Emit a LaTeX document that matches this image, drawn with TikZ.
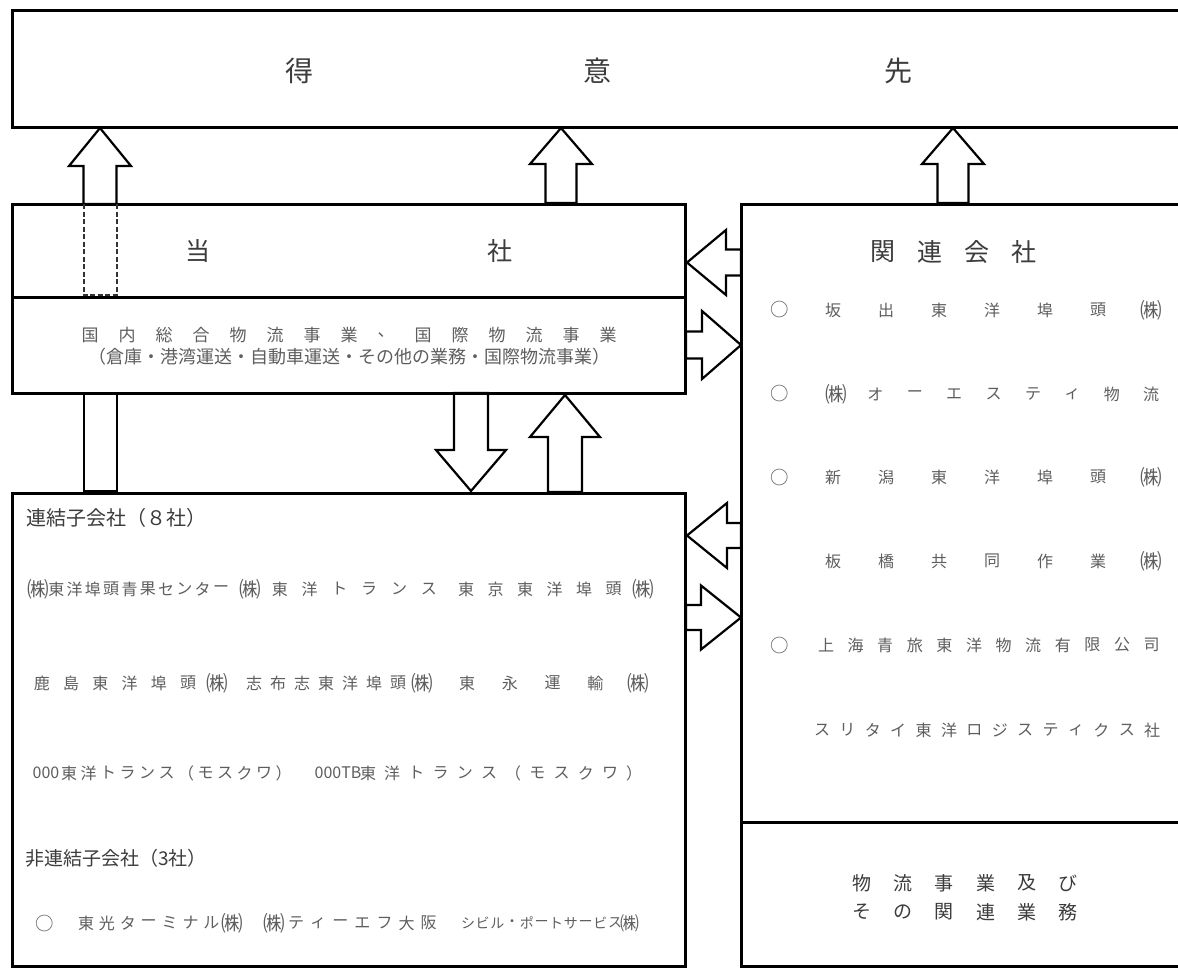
\documentclass[tikz,border=0pt]{standalone}
\usepackage{fontspec}
\setmainfont{Noto Sans CJK JP}
\definecolor{txtdark}{HTML}{3C3C3C}
\definecolor{txtlight}{HTML}{5E5E5E}
\newcommand\kabu{\raisebox{-0.12em}{\scalebox{1.35}{㈱}}}
\newcommand\maru{\scalebox{1.15}{○}}
\newcommand\blockV[6]{% tipx, tipy, headhalf, shafthalf, head base y, tail y
  \draw[arr] (#1,#2) -- ({#1+#3},#5) -- ({#1+#4},#5) -- ({#1+#4},#6) -- ({#1-#4},#6) -- ({#1-#4},#5) -- ({#1-#3},#5) -- cycle;}
\newcommand\blockH[6]{% tipx, tipy, headhalf, shafthalf, head base x, tail x
  \draw[arr] (#1,#2) -- (#5,{#2-#3}) -- (#5,{#2-#4}) -- (#6,{#2-#4}) -- (#6,{#2+#4}) -- (#5,{#2+#4}) -- (#5,{#2+#3}) -- cycle;}
\newcommand\placechars[6]{% style, name, x0, dx, y, list
  \foreach \cc [count=\kk from 0] in {#6}{\node[#1] (#2-\kk) at ({#3+#4*\kk},#5) {\cc};}}
\begin{document}
\begin{tikzpicture}[x=1pt,y=-1pt,
  box/.style={draw=black, line width=3pt, inner sep=0pt, outer sep=0pt, anchor=north west},
  arr/.style={draw=black, line width=2.2pt, line join=miter},
  dasharr/.style={draw=black!80, line width=2pt, dash pattern=on 5pt off 2.5pt},
  big/.style={inner sep=0pt, text=txtdark, font=\fontsize{28}{30}\selectfont},
  head/.style={inner sep=0pt, text=txtdark, font=\fontsize{25}{27}\selectfont},
  sub/.style={inner sep=0pt, text=txtdark, font=\fontsize{20}{22}\selectfont, anchor=west},
  bz/.style={inner sep=0pt, text=txtlight, font=\fontsize{17}{19}\selectfont},
  rc/.style={inner sep=0pt, text=txtlight, font=\fontsize{16}{18}\selectfont},
  lc/.style={inner sep=0pt, text=txtlight, font=\fontsize{16}{18}\selectfont},
  lcs/.style={inner sep=0pt, text=txtlight, font=\fontsize{14}{16}\selectfont},
  bt/.style={inner sep=0pt, text=txtdark, font=\fontsize{19}{21}\selectfont}]
\useasboundingbox (0,0) rectangle (1178,967);
\fill[white] (0,0) rectangle (1178,967);

% boxes
\node[box, minimum width=1190pt, minimum height=117pt] (tokui) at (12,10) {};
\node[box, minimum width=673pt, minimum height=93pt] (tosha) at (12,204) {};
\node[box, minimum width=673pt, minimum height=96pt] (jigyo) at (12,297) {};
\node[box, minimum width=673pt, minimum height=473pt] (renketsu) at (12,493) {};
\node[box, minimum width=460pt, minimum height=618pt] (kanren) at (741,204) {};
\node[box, minimum width=460pt, minimum height=144pt] (butsuryu) at (741,822) {};

% vertical block arrows
\blockV{100}{128}{31}{16.5}{166}{204}
\draw[dasharr] (83.5,204) -- (83.5,295) -- (116.5,295) -- (116.5,204);
\blockV{561}{128}{31}{15.5}{164}{203}
\blockV{953}{128}{31}{15.5}{164}{203}
\draw[arr] (84,393) rectangle (117,491);
\blockV{471}{491}{35}{17}{450}{393}
\blockV{565}{395}{35}{17}{437}{492}

% horizontal block arrows
\blockH{687}{262.5}{32.5}{13}{726}{741}
\blockH{741}{345}{34}{13.5}{702}{686}
\blockH{687}{535.5}{32.5}{12.5}{727}{741}
\blockH{741}{617.5}{32}{12.5}{701}{686}

% top box text
\node[big] (t-1) at (299,71) {得};
\node[big] (t-2) at (597,71) {意};
\node[big] (t-3) at (898,71) {先};

% company
\node[head] (s-1) at (198,251) {当};
\node[head] (s-2) at (500,251) {社};

% business
\placechars{bz}{j1}{90}{37}{335}{国,内,総,合,物,流,事,業,、,国,際,物,流,事,業}
\node[inner sep=0pt, text=txtlight, font=\fontsize{18}{20}\selectfont] (j2) at (349,357) {（倉庫・港湾運送・自動車運送・その他の業務・国際物流事業）};

% related companies
\placechars{head}{kh}{883}{47}{252}{関,連,会,社}
\node[rc] (k1o) at (780,310) {\maru};
\placechars{rc}{k1}{833}{53}{310}{坂,出,東,洋,埠,頭,\kabu}
\node[rc] (k2o) at (780,394) {\maru};
\placechars{rc}{k2}{836}{39.4}{394}{\kabu,オ,ー,エ,ス,テ,ィ,物,流}
\node[rc] (k3o) at (780,477) {\maru};
\placechars{rc}{k3}{833}{53}{477}{新,潟,東,洋,埠,頭,\kabu}
\placechars{rc}{k4}{833}{53}{561}{板,橋,共,同,作,業,\kabu}
\node[rc] (k5o) at (780,645) {\maru};
\placechars{rc}{k5}{826}{29.6}{645}{上,海,青,旅,東,洋,物,流,有,限,公,司}
\placechars{rc}{k6}{822}{25.4}{730}{ス,リ,タ,イ,東,洋,ロ,ジ,ス,テ,ィ,ク,ス,社}

% logistics box
\placechars{bt}{m1}{862}{41.2}{883}{物,流,事,業,及,び}
\placechars{bt}{m2}{862}{41.2}{912}{そ,の,関,連,業,務}

% subsidiaries
\node[sub] (rk) at (26,518) {連結子会社（８社）};
\placechars{lc}{a1}{38}{18.3}{589}{\kabu,東,洋,埠,頭,青,果,セ,ン,タ,ー}
\placechars{lc}{a2}{250}{29.8}{589}{\kabu,東,洋,ト,ラ,ン,ス}
\placechars{lc}{a3}{466}{29.5}{589}{東,京,東,洋,埠,頭,\kabu}
\placechars{lc}{b1}{42}{29.2}{683}{鹿,島,東,洋,埠,頭,\kabu}
\placechars{lc}{b2}{254}{24}{683}{志,布,志,東,洋,埠,頭,\kabu}
\placechars{lc}{b3}{467}{42.75}{683}{東,永,運,輸,\kabu}
\node[lc] (c0) at (46,773) {000};
\placechars{lc}{c1}{69}{19.5}{773}{東,洋,ト,ラ,ン,ス,（,モ,ス,ク,ワ,）}
\node[lc] (d0) at (338,773) {000TB};
\placechars{lc}{d1}{368}{24.2}{773}{東,洋,ト,ラ,ン,ス,（,モ,ス,ク,ワ,）}
\node[sub, font=\fontsize{19}{21}\selectfont] (hr) at (25,858) {非連結子会社（3社）};
\node[lc] (e0) at (45,923) {\maru};
\placechars{lc}{e1}{86}{20.9}{923}{東,光,タ,ー,ミ,ナ,ル,\kabu}
\placechars{lc}{e2}{274}{22.1}{923}{\kabu,テ,ィ,ー,エ,フ,大,阪}
\placechars{lcs}{e3}{468}{14.7}{923}{シ,ビ,ル,・,ポ,ー,ト,サ,ー,ビ,ス,\kabu}
\end{tikzpicture}
\end{document}
